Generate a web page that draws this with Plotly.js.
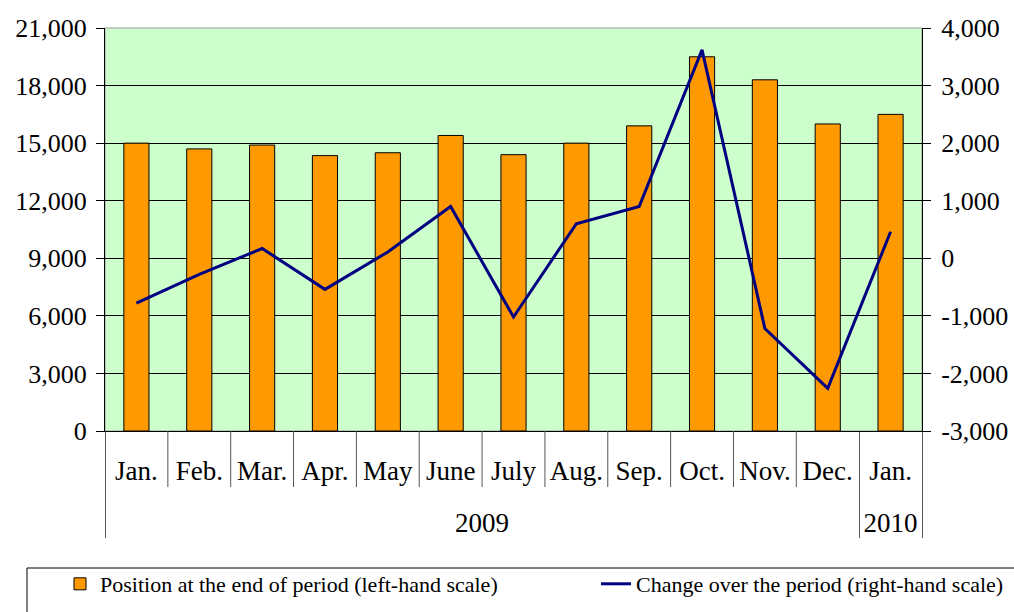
<!DOCTYPE html>
<html>
<head>
<meta charset="utf-8">
<script src="https://cdn.plot.ly/plotly-3.0.1.min.js"></script>
<style>
html,body{margin:0;padding:0;background:#fff;}
#chart{width:1014px;height:612px;}
</style>
</head>
<body>
<div id="chart"></div>
<script>
// ---- data ----
var months = ["Jan.", "Feb.", "Mar.", "Apr.", "May", "June", "July", "Aug.", "Sep.", "Oct.", "Nov.", "Dec.", "Jan."];
var years = ["2009", "2009", "2009", "2009", "2009", "2009", "2009", "2009", "2009", "2009", "2009", "2009", "2010"];
var position = [15000, 14700, 14900, 14350, 14500, 15400, 14400, 15000, 15900, 19500, 18300, 16000, 16500];
var change = [-780, -280, 170, -540, 110, 900, -1020, 600, 900, 3620, -1220, -2260, 460];
var leftTicks = [0, 3000, 6000, 9000, 12000, 15000, 18000, 21000];
var leftTickText = ["0", "3,000", "6,000", "9,000", "12,000", "15,000", "18,000", "21,000"];
var rightTicks = [-3000, -2000, -1000, 0, 1000, 2000, 3000, 4000];
var rightTickText = ["-3,000", "-2,000", "-1,000", "0", "1,000", "2,000", "3,000", "4,000"];
var barName = "Position at the end of period (left-hand scale)";
var lineName = "Change over the period (right-hand scale)";

var font = "'Liberation Serif', 'Times New Roman', serif";

// outer level label pushed one line down (empty first line)
var yearLabels = years.map(function (y) { return "<br>" + y; });

var traces = [
  {
    type: "bar",
    x: [yearLabels, months],
    y: position,
    name: barName,
    marker: {color: "#FF9900", line: {color: "#000000", width: 1}},
    width: 0.4,
    legend: "legend"
  },
  {
    type: "scatter",
    mode: "lines",
    x: [yearLabels, months],
    y: change,
    name: lineName,
    yaxis: "y2",
    line: {color: "#000080", width: 3},
    legend: "legend2"
  }
];

// separators between month labels (axis decoration), in paper coords
var shapes = [];
for (var i = 1; i < months.length; i++) {
  if (years[i] !== years[i - 1]) continue;
  shapes.push({
    type: "line", xref: "paper", yref: "paper",
    x0: i / months.length, x1: i / months.length,
    y0: 0, y1: -56 / 403,
    line: {color: "#555555", width: 1}
  });
}
// plot frame
shapes.push({type: "rect", xref: "paper", yref: "paper", x0: 0, x1: 1, y0: 0, y1: 1,
  line: {color: "#999999", width: 1}, layer: "below"});
// legend box
shapes.push({type: "rect", xref: "paper", yref: "paper",
  x0: (27 - 105) / 817, x1: (1030 - 105) / 817,
  y0: (431 - 568) / 403, y1: (431 - 630) / 403,
  line: {color: "#000000", width: 1}});

var layout = {
  width: 1014, height: 612,
  margin: {l: 105, r: 92, t: 28, b: 181},
  paper_bgcolor: "#ffffff",
  plot_bgcolor: "#CCFFCC",
  font: {family: font, size: 26, color: "#000000"},
  xaxis: {
    type: "multicategory",
    showline: true, linecolor: "#000000", linewidth: 1,
    ticks: "", ticklabelstandoff: 16,
    showdividers: true, dividercolor: "#555555", dividerwidth: 1,
    tickfont: {family: font, size: 27, color: "#000000"},
    showgrid: false
  },
  yaxis: {
    range: [0, 21000],
    tickmode: "array", tickvals: leftTicks, ticktext: leftTickText,
    showline: true, linecolor: "#000000", linewidth: 1,
    ticks: "outside", ticklen: 8, tickcolor: "#000000",
    ticklabelstandoff: 4,
    showgrid: true, gridcolor: "#000000", gridwidth: 1,
    zeroline: false,
    tickfont: {family: font, size: 26, color: "#000000"}
  },
  yaxis2: {
    overlaying: "y", side: "right",
    range: [-3000, 4000],
    tickmode: "array", tickvals: rightTicks, ticktext: rightTickText,
    showline: true, linecolor: "#000000", linewidth: 1,
    ticks: "outside", ticklen: 8, tickcolor: "#000000",
    ticklabelstandoff: 5,
    showgrid: false, zeroline: false,
    tickfont: {family: font, size: 26, color: "#000000"}
  },
  showlegend: true,
  legend: {
    xref: "container", yref: "container",
    x: 60 / 1014, y: 1 - 563 / 612, xanchor: "left", yanchor: "top",
    orientation: "h", bgcolor: "rgba(0,0,0,0)", borderwidth: 0,
    font: {family: font, size: 22, color: "#000000"}
  },
  legend2: {
    xref: "container", yref: "container",
    x: 596 / 1014, y: 1 - 563 / 612, xanchor: "left", yanchor: "top",
    orientation: "h", bgcolor: "rgba(0,0,0,0)", borderwidth: 0,
    font: {family: font, size: 22, color: "#000000"}
  },
  shapes: shapes
};

Plotly.newPlot("chart", traces, layout, {displayModeBar: false, staticPlot: true});
</script>
</body>
</html>
